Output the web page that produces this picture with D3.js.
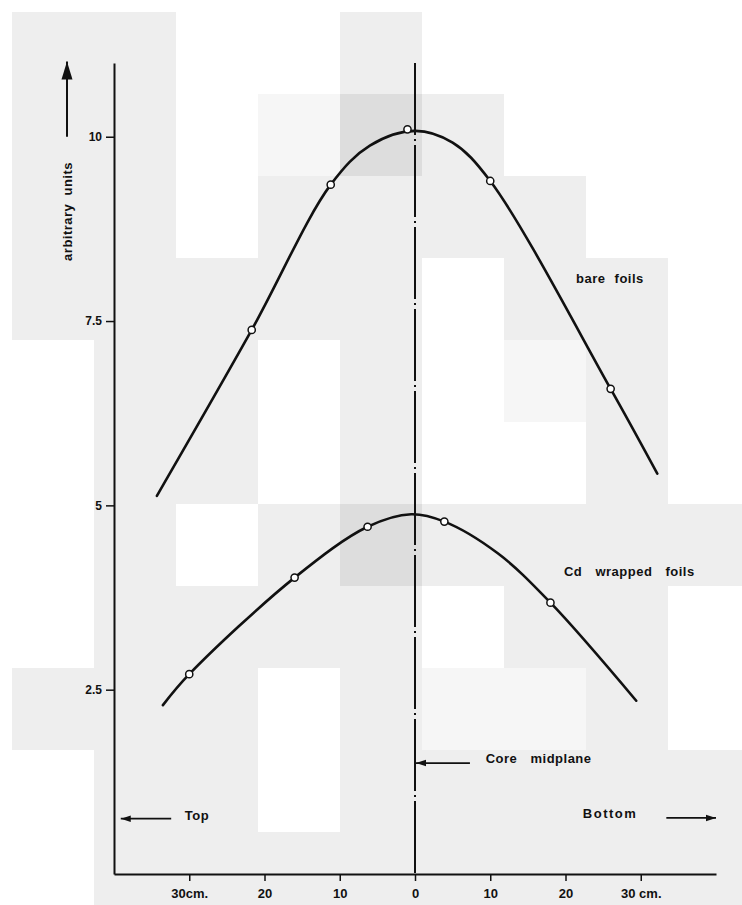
<!DOCTYPE html>
<html>
<head>
<meta charset="utf-8">
<script src="https://cdn.jsdelivr.net/npm/d3@7/dist/d3.min.js"></script>
<style>
  html, body { margin: 0; padding: 0; background: #ffffff; }
  svg { display: block; }
  text { font-family: "Liberation Sans", Arial, sans-serif; font-weight: bold; fill: #111; }
</style>
</head>
<body>
<svg id="chart" width="742" height="905"></svg>
<script>
// Axial position along the core (cm, negative = towards the top) and flux values
const xTicks = [-30, -20, -10, 0, 10, 20, 30];
const xTickLabels = ["30cm.", "20", "10", "0", "10", "20", "30 cm."];
const yTicks = [2.5, 5, 7.5, 10];
const yTickLabels = ["2.5", "5", "7.5", "10"];

// Measured activities, bare foils
const barePosition = [-21.7, -11.2, -1.0, 10.0, 26.0];
const bareValue = [7.38, 9.35, 10.10, 9.40, 6.58];
// Hand-drawn smooth curve through the bare-foil data
const bareCurvePosition = [-34.3, -21.7, -11.2, -6.0, 0.0, 5.0, 10.0, 26.0, 32.2];
const bareCurveValue = [5.13, 7.38, 9.35, 9.88, 10.08, 9.92, 9.40, 6.58, 5.43];

// Measured activities, Cd wrapped foils
const cdPosition = [-30.0, -16.0, -6.3, 3.9, 18.0];
const cdValue = [2.71, 4.02, 4.71, 4.78, 3.68];
const cdCurvePosition = [-33.5, -30.0, -16.0, -6.3, -0.5, 3.9, 11.0, 18.0, 29.4];
const cdCurveValue = [2.29, 2.71, 4.02, 4.71, 4.88, 4.78, 4.35, 3.68, 2.35];

// Paper tone of the scanned sheet, one code per 82px tile
const paperTiles = [
  "GGWWGWWWW",
  "GGWLDGWWW",
  "GGWGGGGWW",
  "GGGGGWGGW",
  "WGGWGWLGW",
  "WGGWGWWGW",
  "WGWGDGGGG",
  "WGGGGWGGW",
  "GGGWGLLGW",
  "WGGWGGGGG",
  "WGGGGGGGG"
];
const paperShade = { W: "#ffffff", G: "#eeeeee", L: "#f6f6f6", D: "#dddddd" };

const svg = d3.select("#chart");

// paper tiles
const tile = 82, tileOrigin = 12;
const tileCells = [];
paperTiles.forEach((row, r) => row.split("").forEach((c, k) => tileCells.push({ r, k, c })));
svg.append("g").selectAll("rect").data(tileCells).join("rect")
  .attr("x", d => tileOrigin + d.k * tile)
  .attr("y", d => tileOrigin + d.r * tile)
  .attr("width", tile).attr("height", tile)
  .attr("fill", d => paperShade[d.c]);

const x = d3.scaleLinear().domain([-40, 40]).range([114, 716]);
const y = d3.scaleLinear().domain([0, 11]).range([874, 63]);

// arrowheads
const defs = svg.append("defs");
defs.append("marker").attr("id", "head").attr("viewBox", "0 0 10 8")
  .attr("refX", 10).attr("refY", 4).attr("markerWidth", 10).attr("markerHeight", 8)
  .attr("markerUnits", "userSpaceOnUse").attr("orient", "auto")
  .append("path").attr("d", "M0,0.8 L10,4 L0,7.2 Z").attr("fill", "#111");
defs.append("marker").attr("id", "bighead").attr("viewBox", "0 0 18 12")
  .attr("refX", 18).attr("refY", 6).attr("markerWidth", 18).attr("markerHeight", 12)
  .attr("markerUnits", "userSpaceOnUse").attr("orient", "auto")
  .append("path").attr("d", "M0,0.5 L18,6 L0,11.5 Z").attr("fill", "#111");

// axes
const xAxis = d3.axisBottom(x).tickValues(xTicks).tickSize(7).tickSizeOuter(0).tickPadding(8)
  .tickFormat((d, i) => xTickLabels[i]);
const gx = svg.append("g").attr("transform", `translate(0,${y(0)})`).call(xAxis);
gx.select(".domain").attr("stroke", "#111").attr("stroke-width", 2);
gx.selectAll(".tick line").attr("stroke", "#111").attr("stroke-width", 1.5);
gx.selectAll(".tick text").attr("font-size", 13).attr("font-family", "Liberation Sans, Arial, sans-serif")
  .attr("font-weight", "bold").attr("fill", "#111");

const yAxis = d3.axisLeft(y).tickValues(yTicks).tickSize(8).tickSizeOuter(0).tickPadding(4)
  .tickFormat((d, i) => yTickLabels[i]);
const gy = svg.append("g").attr("transform", `translate(${x(-40)},0)`).call(yAxis);
gy.select(".domain").attr("stroke", "#111").attr("stroke-width", 2);
gy.selectAll(".tick line").attr("stroke", "#111").attr("stroke-width", 1.5);
gy.selectAll(".tick text").attr("font-size", 12).attr("font-family", "Liberation Sans, Arial, sans-serif")
  .attr("font-weight", "bold").attr("fill", "#111");

// core midplane
svg.append("line")
  .attr("x1", x(0)).attr("x2", x(0)).attr("y1", y(11)).attr("y2", y(0))
  .attr("stroke", "#111").attr("stroke-width", 2)
  .attr("stroke-dasharray", "72 4 2 4");

// curves
const line = d3.line().x(d => x(d[0])).y(d => y(d[1])).curve(d3.curveCatmullRom.alpha(0.5));
const curves = [
  d3.zip(bareCurvePosition, bareCurveValue),
  d3.zip(cdCurvePosition, cdCurveValue)
];
svg.append("g").selectAll("path").data(curves).join("path")
  .attr("d", line).attr("fill", "none").attr("stroke", "#111")
  .attr("stroke-width", 2.6).attr("stroke-linecap", "round");

// data points
const pts = d3.zip(barePosition, bareValue).concat(d3.zip(cdPosition, cdValue));
svg.append("g").selectAll("circle").data(pts).join("circle")
  .attr("cx", d => x(d[0])).attr("cy", d => y(d[1])).attr("r", 3.6)
  .attr("fill", "#fff").attr("stroke", "#111").attr("stroke-width", 1.5);

// annotations
function label(t, px, py, opts = {}) {
  return svg.append("text").attr("x", px).attr("y", py)
    .attr("font-size", opts.size || 13)
    .attr("dominant-baseline", "central")
    .style("letter-spacing", (opts.ls ?? 0.5) + "px")
    .style("word-spacing", (opts.ws ?? 6) + "px")
    .text(t);
}
label("bare foils", x(21.4), y(8.08), { ws: 5 });
label("Cd wrapped foils", x(19.8), y(4.10), { ws: 9 });
label("Core midplane", x(9.4), y(1.57), { ws: 9 });
label("Top", x(-30.6), y(0.80), { ls: 0.5 });
label("Bottom", x(22.3), y(0.82), { ls: 1.5 });

// arrows
const arrows = [
  [x(7.3), y(1.505), x(0) + 1, y(1.505)],
  [x(-32.4), y(0.75), x(-39.1), y(0.75)],
  [x(33.4), y(0.76), x(40), y(0.76)]
];
svg.append("g").selectAll("line").data(arrows).join("line")
  .attr("x1", d => d[0]).attr("y1", d => d[1]).attr("x2", d => d[2]).attr("y2", d => d[3])
  .attr("stroke", "#111").attr("stroke-width", 1.8).attr("marker-end", "url(#head)");

// y axis title with upward arrow
svg.append("line").attr("x1", 67).attr("x2", 67).attr("y1", y(10)).attr("y2", y(11.02))
  .attr("stroke", "#111").attr("stroke-width", 2).attr("marker-end", "url(#bighead)");
svg.append("text")
  .attr("transform", `translate(67,${y(9.0) + 1}) rotate(-90)`)
  .attr("text-anchor", "middle").attr("dominant-baseline", "central")
  .attr("font-size", 13).style("letter-spacing", "0.5px").style("word-spacing", "4px")
  .text("arbitrary units");
</script>
</body>
</html>
